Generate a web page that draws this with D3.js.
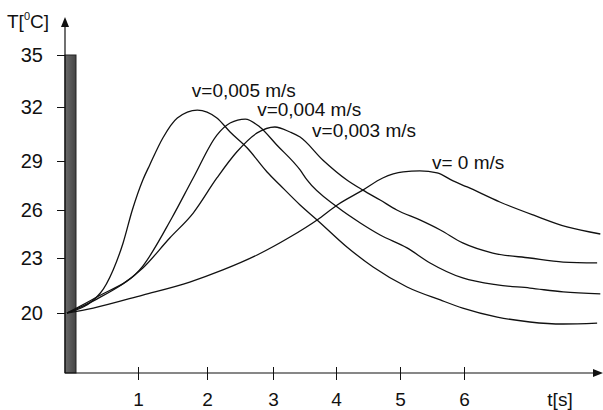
<!DOCTYPE html>
<html>
<head>
<meta charset="utf-8">
<script src="https://cdn.jsdelivr.net/npm/d3@7"></script>
<style>
  body { margin: 0; background: #fff; }
  svg { font-family: "Liberation Sans", Arial, sans-serif; display: block; }
</style>
</head>
<body>
<div id="chart"></div>
<script>
// 1. DATA
const xTicks = [1, 2, 3, 4, 5, 6]
const yTicks = [20, 23, 26, 29, 32, 35]
const heaterTemp = 35

const seriesNames = ["v=0,005 m/s", "v=0,004 m/s", "v=0,003 m/s", "v= 0 m/s"]

const tV005 = [0, 0.47, 0.65, 0.79, 0.92, 1.07, 1.17, 1.36, 1.57, 1.86, 2.15, 2.35, 2.61, 2.91, 3.11, 3.43, 3.70, 4.17, 4.58, 5.11, 5.63, 5.98, 6.52, 7.03, 7.55, 8.08]
const TV005 = [20, 21.09, 22.35, 23.94, 26, 27.84, 28.76, 30.28, 31.39, 31.83, 31.39, 30.61, 29.72, 28.33, 27.53, 26.31, 25.38, 23.69, 22.51, 21.42, 20.71, 20.27, 19.78, 19.51, 19.40, 19.45]

const tV004 = [0, 0.42, 1.07, 1.49, 1.80, 2.15, 2.35, 2.58, 2.80, 3.06, 3.43, 3.54, 4.02, 4.38, 4.69, 5.11, 5.47, 5.98, 6.52, 7.03, 7.55, 8.13]
const TV004 = [20, 20.87, 22.56, 25.5, 27.96, 30.44, 31.11, 31.33, 30.89, 29.89, 28.45, 27.84, 26.18, 25.19, 24.44, 23.63, 22.73, 21.91, 21.53, 21.36, 21.15, 21.04]

const tV003 = [0, 0.42, 1.07, 1.46, 1.80, 2.15, 2.45, 2.76, 3.03, 3.27, 3.43, 3.79, 4.17, 4.42, 4.69, 4.95, 5.31, 5.63, 5.98, 6.45, 7.03, 7.55, 8.08]
const TV003 = [20, 20.76, 22.45, 24.25, 25.81, 27.96, 29.5, 30.56, 30.89, 30.61, 30.33, 29.06, 27.84, 27.22, 26.61, 26, 25.38, 24.75, 23.94, 23.31, 23, 22.78, 22.73]

const tV0 = [0, 0.37, 1.07, 1.75, 2.24, 2.76, 3.27, 3.70, 4.02, 4.42, 4.73, 5.05, 5.31, 5.58, 5.83, 6.05, 6.56, 7.08, 7.61, 8.13]
const TV0 = [20, 20.27, 20.98, 21.69, 22.35, 23.19, 24.31, 25.38, 26.31, 27.22, 27.96, 28.33, 28.39, 28.27, 27.78, 27.41, 26.49, 25.69, 24.94, 24.5]

// label anchors (t, T)
const labelT = [1.78, 2.76, 3.62, 5.5]
const labelTemp = [32.58, 31.5, 30.33, 28.51]

const series = [
    {t: tV005, T: TV005},
    {t: tV004, T: TV004},
    {t: tV003, T: TV003},
    {t: tV0, T: TV0},
].map((s, i) => ({
    name: seriesNames[i],
    values: s.t.map((t, j) => ({t: t, T: s.T[j]})),
    label: {t: labelT[i], T: labelTemp[i]},
}))

// 2. DIMENSIONS
const dimensions = {
    width: 603,
    height: 410,
    axisX: 65,
    axisY: 373,
}

// 3. DRAW CANVAS
const wrapper = d3.select("#chart")
    .append("svg")
    .attr("width", dimensions.width)
    .attr("height", dimensions.height)

wrapper.append("rect")
    .attr("width", dimensions.width)
    .attr("height", dimensions.height)
    .attr("fill", "white")

// 4. CREATE SCALES (hand drawn axes, slightly uneven spacing)
const xScale = d3.scaleLinear()
    .domain([0, 1, 2, 3, 4, 5, 6])
    .range([67, 138, 207, 273, 336, 400, 464])

const yScale = d3.scaleLinear()
    .domain([20, 23, 26, 29, 32, 35])
    .range([313, 258, 210, 161, 107, 55])

// 5. DRAW DATA
const grad = wrapper.append("defs").append("linearGradient")
    .attr("id", "barGrad")
grad.append("stop").attr("offset", "0%").attr("stop-color", "#6a6a6a")
grad.append("stop").attr("offset", "100%").attr("stop-color", "#444")

wrapper.append("rect")
    .attr("x", dimensions.axisX)
    .attr("y", yScale(heaterTemp))
    .attr("width", 11)
    .attr("height", dimensions.axisY - yScale(heaterTemp))
    .attr("fill", "url(#barGrad)")
    .attr("stroke", "#222")
    .attr("stroke-width", 1)

const lineGenerator = d3.line()
    .x(d => xScale(d.t))
    .y(d => yScale(d.T))
    .curve(d3.curveMonotoneX)

wrapper.selectAll(".curve")
    .data(series)
    .join("path")
    .attr("class", "curve")
    .attr("d", d => lineGenerator(d.values))
    .attr("fill", "none")
    .attr("stroke", "#111")
    .attr("stroke-width", 1.3)

wrapper.selectAll(".curveLabel")
    .data(series)
    .join("text")
    .attr("class", "curveLabel")
    .attr("x", d => xScale(d.label.t))
    .attr("y", d => yScale(d.label.T))
    .attr("font-size", 19)
    .attr("fill", "#111")
    .text(d => d.name)

// 6. DRAW PERIPHERALS
const yAxis = wrapper.append("g")
    .attr("transform", `translate(${dimensions.axisX},0)`)
    .call(d3.axisLeft(yScale).tickValues(yTicks).tickFormat(d3.format("d"))
        .tickSize(8).tickPadding(14).tickSizeOuter(0))
yAxis.select(".domain").remove()
yAxis.selectAll("text").attr("font-size", 20).attr("fill", "#111").attr("font-family", null)
yAxis.selectAll("line").attr("stroke", "#111")

const xAxis = wrapper.append("g")
    .attr("transform", `translate(0,${dimensions.axisY})`)
    .call(d3.axisBottom(xScale).tickValues(xTicks).tickFormat(d3.format("d"))
        .tickSize(7).tickPadding(13).tickSizeOuter(0))
xAxis.select(".domain").remove()
xAxis.selectAll(".tick line").attr("y1", -6).attr("stroke", "#111")
xAxis.selectAll("text").attr("font-size", 19).attr("fill", "#111").attr("font-family", null)

// axis lines with arrows
wrapper.append("line")
    .attr("x1", dimensions.axisX).attr("y1", dimensions.axisY)
    .attr("x2", dimensions.axisX).attr("y2", 24)
    .attr("stroke", "#111").attr("stroke-width", 1.2)
wrapper.append("path")
    .attr("d", `M${dimensions.axisX},17 L${dimensions.axisX - 4},27 L${dimensions.axisX + 4},27 Z`)
    .attr("fill", "#111")

wrapper.append("line")
    .attr("x1", dimensions.axisX).attr("y1", dimensions.axisY)
    .attr("x2", 596).attr("y2", dimensions.axisY)
    .attr("stroke", "#111").attr("stroke-width", 1.2)
wrapper.append("path")
    .attr("d", `M603,${dimensions.axisY} L593,${dimensions.axisY - 4} L593,${dimensions.axisY + 4} Z`)
    .attr("fill", "#111")

// axis titles
const yTitle = wrapper.append("text")
    .attr("x", 7)
    .attr("y", 28)
    .attr("font-size", 19)
    .attr("fill", "#111")
yTitle.append("tspan").text("T[")
yTitle.append("tspan").attr("font-size", 11).attr("dy", -8).text("0")
yTitle.append("tspan").attr("dy", 8).text("C]")

wrapper.append("text")
    .attr("x", xScale(7.5))
    .attr("y", 406)
    .attr("text-anchor", "middle")
    .attr("font-size", 19)
    .attr("fill", "#111")
    .text("t[s]")
</script>
</body>
</html>
